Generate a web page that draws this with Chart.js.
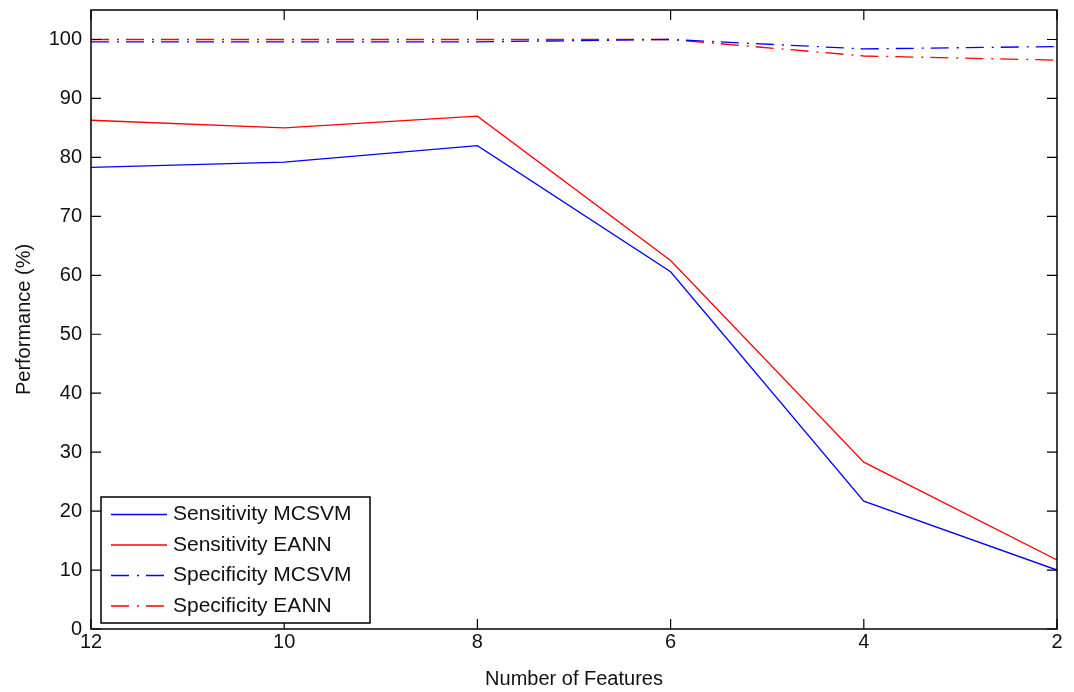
<!DOCTYPE html>
<html>
<head>
<meta charset="utf-8">
<script src="https://cdn.jsdelivr.net/npm/chart.js@4.4.0/dist/chart.umd.min.js"></script>
<style>
  html, body { margin: 0; background: #fff; }
</style>
</head>
<body>
<canvas id="myChart" width="1074" height="692"></canvas>
<script>
const features = [12, 10, 8, 6, 4, 2];
const sensMCSVM = [78.3, 79.2, 82.0, 60.6, 21.7, 10.0];
const sensEANN = [86.3, 85.0, 87.0, 62.5, 28.3, 11.7];
const specMCSVM = [99.6, 99.6, 99.6, 100.0, 98.4, 98.8];
const specEANN = [100.0, 100.0, 100.0, 100.0, 97.2, 96.5];
const xTicks = [12, 10, 8, 6, 4, 2];
const yTicks = [0, 10, 20, 30, 40, 50, 60, 70, 80, 90, 100];

const FONT = "'Liberation Sans', Arial, sans-serif";
const dashDot = [18, 8, 2, 7];

function pts(vals) {
  return features.map((f, i) => ({ x: f, y: vals[i] }));
}

// black frame with inward ticks on all four sides (matlab style)
const framePlugin = {
  id: "frame",
  afterDatasetsDraw(chart) {
    const { ctx, chartArea: a, scales } = chart;
    const len = 10;
    ctx.save();
    ctx.strokeStyle = "#000";
    ctx.lineWidth = 1.5;
    ctx.strokeRect(a.left, a.top, a.right - a.left, a.bottom - a.top);
    ctx.lineWidth = 1.2;
    ctx.beginPath();
    xTicks.forEach(t => {
      const x = scales.x.getPixelForValue(t);
      ctx.moveTo(x, a.bottom); ctx.lineTo(x, a.bottom - len);
      ctx.moveTo(x, a.top); ctx.lineTo(x, a.top + len);
    });
    yTicks.forEach(t => {
      const y = scales.y.getPixelForValue(t);
      ctx.moveTo(a.left, y); ctx.lineTo(a.left + len, y);
      ctx.moveTo(a.right, y); ctx.lineTo(a.right - len, y);
    });
    ctx.stroke();
    ctx.restore();
  }
};

// legend box in the lower left corner of the plot
const boxLegend = {
  id: "boxLegend",
  afterDraw(chart) {
    const { ctx, chartArea: a } = chart;
    const bx = a.left + 10, by = 497, bw = 269, bh = 126;
    ctx.save();
    ctx.fillStyle = "#fff";
    ctx.fillRect(bx, by, bw, bh);
    ctx.strokeStyle = "#000";
    ctx.lineWidth = 1.5;
    ctx.strokeRect(bx, by, bw, bh);
    ctx.font = "21px " + FONT;
    ctx.textBaseline = "middle";
    chart.data.datasets.forEach((ds, i) => {
      const y = by + 17.5 + i * 30.5;
      ctx.strokeStyle = ds.borderColor;
      ctx.lineWidth = ds.borderWidth;
      ctx.setLineDash(ds.borderDash || []);
      ctx.beginPath();
      ctx.moveTo(bx + 10, y);
      ctx.lineTo(bx + 66, y);
      ctx.stroke();
      ctx.setLineDash([]);
      ctx.fillStyle = "#111";
      ctx.fillText(ds.label, bx + 72, y);
    });
    ctx.restore();
  }
};

function noPad(s) {
  s.paddingTop = 0; s.paddingBottom = 0; s.paddingLeft = 0; s.paddingRight = 0;
}

new Chart(document.getElementById("myChart"), {
  type: "line",
  data: {
    datasets: [
      { label: "Sensitivity MCSVM", data: pts(sensMCSVM), borderColor: "#0000ff", borderWidth: 1.3 },
      { label: "Sensitivity EANN", data: pts(sensEANN), borderColor: "#ff0000", borderWidth: 1.3 },
      { label: "Specificity MCSVM", data: pts(specMCSVM), borderColor: "#0000ff", borderWidth: 1.3, borderDash: dashDot },
      { label: "Specificity EANN", data: pts(specEANN), borderColor: "#ff0000", borderWidth: 1.3, borderDash: dashDot }
    ]
  },
  options: {
    responsive: false,
    animation: false,
    elements: { point: { radius: 0 }, line: { tension: 0 } },
    layout: { padding: { left: 0, right: 17, top: 10, bottom: 0 } },
    plugins: { legend: { display: false }, tooltip: { enabled: false } },
    scales: {
      x: {
        type: "linear",
        reverse: true,
        min: 2,
        max: 12,
        afterBuildTicks: s => { s.ticks = xTicks.map(v => ({ value: v })); },
        afterFit: s => { s.height = 63; noPad(s); },
        grid: { display: false, drawTicks: false },
        border: { display: false },
        ticks: { color: "#111", padding: 1, font: { family: FONT, size: 20 } },
        title: { display: true, text: "Number of Features", color: "#111", padding: { top: 0, bottom: 1 }, font: { family: FONT, size: 20 } }
      },
      y: {
        min: 0,
        max: 105,
        afterBuildTicks: s => { s.ticks = yTicks.map(v => ({ value: v })); },
        afterFit: s => { s.width = 91; noPad(s); },
        grid: { display: false, drawTicks: false },
        border: { display: false },
        ticks: { color: "#111", padding: 9, font: { family: FONT, size: 20 } },
        title: { display: true, text: "Performance (%)", color: "#111", padding: { top: 12, bottom: 0 }, font: { family: FONT, size: 20 } }
      }
    }
  },
  plugins: [framePlugin, boxLegend]
});
</script>
</body>
</html>
